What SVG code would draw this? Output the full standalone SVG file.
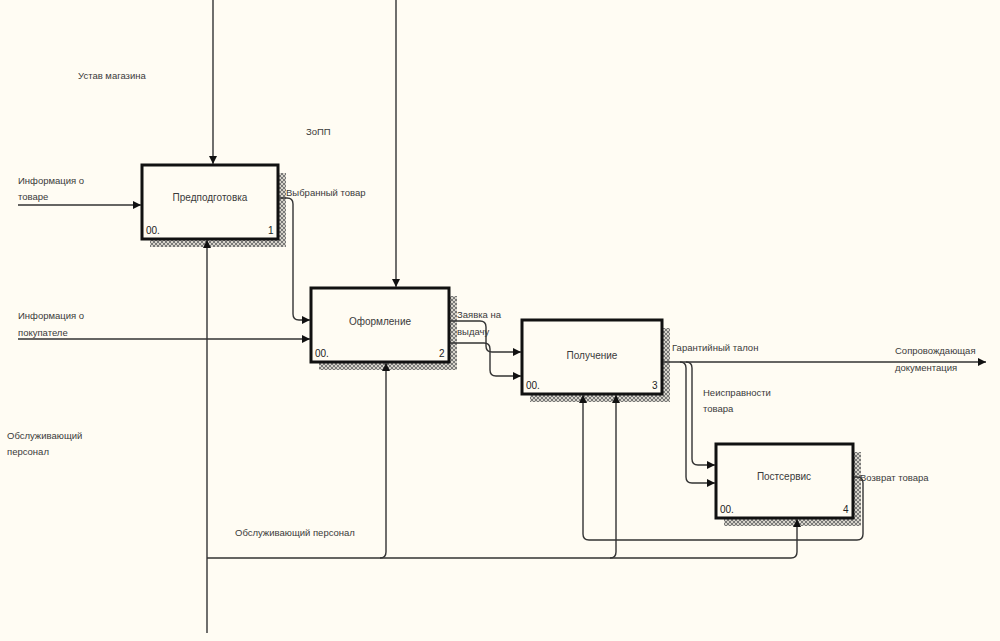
<svg xmlns="http://www.w3.org/2000/svg" width="1000" height="641" viewBox="0 0 1000 641">
<style>
.lbl{font-family:"Liberation Sans",Arial,sans-serif;font-size:9.5px;fill:#3a3a3a}
.ttl{font-family:"Liberation Sans",Arial,sans-serif;font-size:10px;fill:#3a3a3a;text-anchor:middle}
.num{font-family:"Liberation Sans",Arial,sans-serif;font-size:10px;fill:#222}
.box{fill:#fffcf3;stroke:#111;stroke-width:3}
.shd{fill:url(#hatch)}
.ln{fill:none;stroke:#333;stroke-width:1.4}
</style>
<defs>
<pattern id="hatch" width="4" height="4" patternUnits="userSpaceOnUse">
<rect width="4" height="4" fill="#d6d3ca"/>
<path d="M0,4 L4,0 M0,0 L4,4" stroke="#6e6e6e" stroke-width="0.9"/>
</pattern>
<marker id="arr" viewBox="0 0 10 10" refX="10" refY="5" markerWidth="8" markerHeight="8" markerUnits="userSpaceOnUse" orient="auto">
<path d="M0,0 L10,5 L0,10 Z" fill="#111"/>
</marker>
</defs>
<rect width="1000" height="641" fill="#fffcf3"/>

<g id="node1">
<rect class="shd" x="150" y="173" width="136" height="74"/>
<rect class="box" x="142" y="165" width="136" height="74"/>
<text class="ttl" x="210" y="201">Предподготовка</text>
<text class="num" x="146" y="234">00.</text>
<text class="num" x="268" y="234">1</text>
</g>
<g id="node2">
<rect class="shd" x="319" y="296" width="138" height="74"/>
<rect class="box" x="311" y="288" width="138" height="74"/>
<text class="ttl" x="380" y="325">Оформление</text>
<text class="num" x="315" y="357">00.</text>
<text class="num" x="439" y="357">2</text>
</g>
<g id="node3">
<rect class="shd" x="530" y="328" width="140" height="74"/>
<rect class="box" x="522" y="320" width="140" height="74"/>
<text class="ttl" x="592" y="359">Получение</text>
<text class="num" x="526" y="389">00.</text>
<text class="num" x="652" y="389">3</text>
</g>
<g id="node4">
<rect class="shd" x="724" y="452" width="137" height="74"/>
<rect class="box" x="716" y="444" width="137" height="74"/>
<text class="ttl" x="784" y="480">Постсервис</text>
<text class="num" x="720" y="513">00.</text>
<text class="num" x="843" y="513">4</text>
</g>

<g id="connectors">
<path class="ln" d="M213,0 V164" marker-end="url(#arr)"/>
<path class="ln" d="M396,0 V287" marker-end="url(#arr)"/>
<path class="ln" d="M18,205 H141" marker-end="url(#arr)"/>
<path class="ln" d="M279,198 H287 Q293,198 293,204 V314 Q293,320 299,320 H310" marker-end="url(#arr)"/>
<path class="ln" d="M18,339 H310" marker-end="url(#arr)"/>
<path class="ln" d="M207,633 V240" marker-end="url(#arr)"/>
<path class="ln" d="M207,558 H791 Q797,558 797,552 V519" marker-end="url(#arr)"/>
<path class="ln" d="M380,558 Q386,558 386,552 V363" marker-end="url(#arr)"/>
<path class="ln" d="M610,558 Q616,558 616,552 V395" marker-end="url(#arr)"/>
<path class="ln" d="M854,477 H857 Q863,477 863,483 V534 Q863,540 857,540 H589 Q583,540 583,534 V395" marker-end="url(#arr)"/>
<path class="ln" d="M450,321 H480 Q486,321 486,327 V346 Q486,352 492,352 H521" marker-end="url(#arr)"/>
<path class="ln" d="M450,343 H484 Q490,343 490,349 V370 Q490,376 496,376 H521" marker-end="url(#arr)"/>
<path class="ln" d="M663,362 H986" marker-end="url(#arr)"/>
<path class="ln" d="M680,362 Q686,362 686,368 V477 Q686,483 692,483 H715" marker-end="url(#arr)"/>
<path class="ln" d="M686,362 Q692,362 692,368 V459 Q692,465 698,465 H715" marker-end="url(#arr)"/>
</g>

<g id="labels">
<text class="lbl" x="78" y="79">Устав магазина</text>
<text class="lbl" x="306" y="135">ЗоПП</text>
<text class="lbl" x="18" y="184">Информация о</text>
<text class="lbl" x="18" y="200">товаре</text>
<text class="lbl" x="286" y="196">Выбранный товар</text>
<text class="lbl" x="18" y="319">Информация о</text>
<text class="lbl" x="18" y="336">покупателе</text>
<text class="lbl" x="457" y="318">Заявка на</text>
<text class="lbl" x="457" y="335">выдачу</text>
<text class="lbl" x="672" y="351">Гарантийный талон</text>
<text class="lbl" x="895" y="354">Сопровождающая</text>
<text class="lbl" x="895" y="371">документация</text>
<text class="lbl" x="703" y="396">Неисправности</text>
<text class="lbl" x="703" y="412">товара</text>
<text class="lbl" x="860" y="481">Возврат товара</text>
<text class="lbl" x="7" y="439">Обслуживающий</text>
<text class="lbl" x="7" y="455">персонал</text>
<text class="lbl" x="235" y="536">Обслуживающий персонал</text>
</g>
</svg>
